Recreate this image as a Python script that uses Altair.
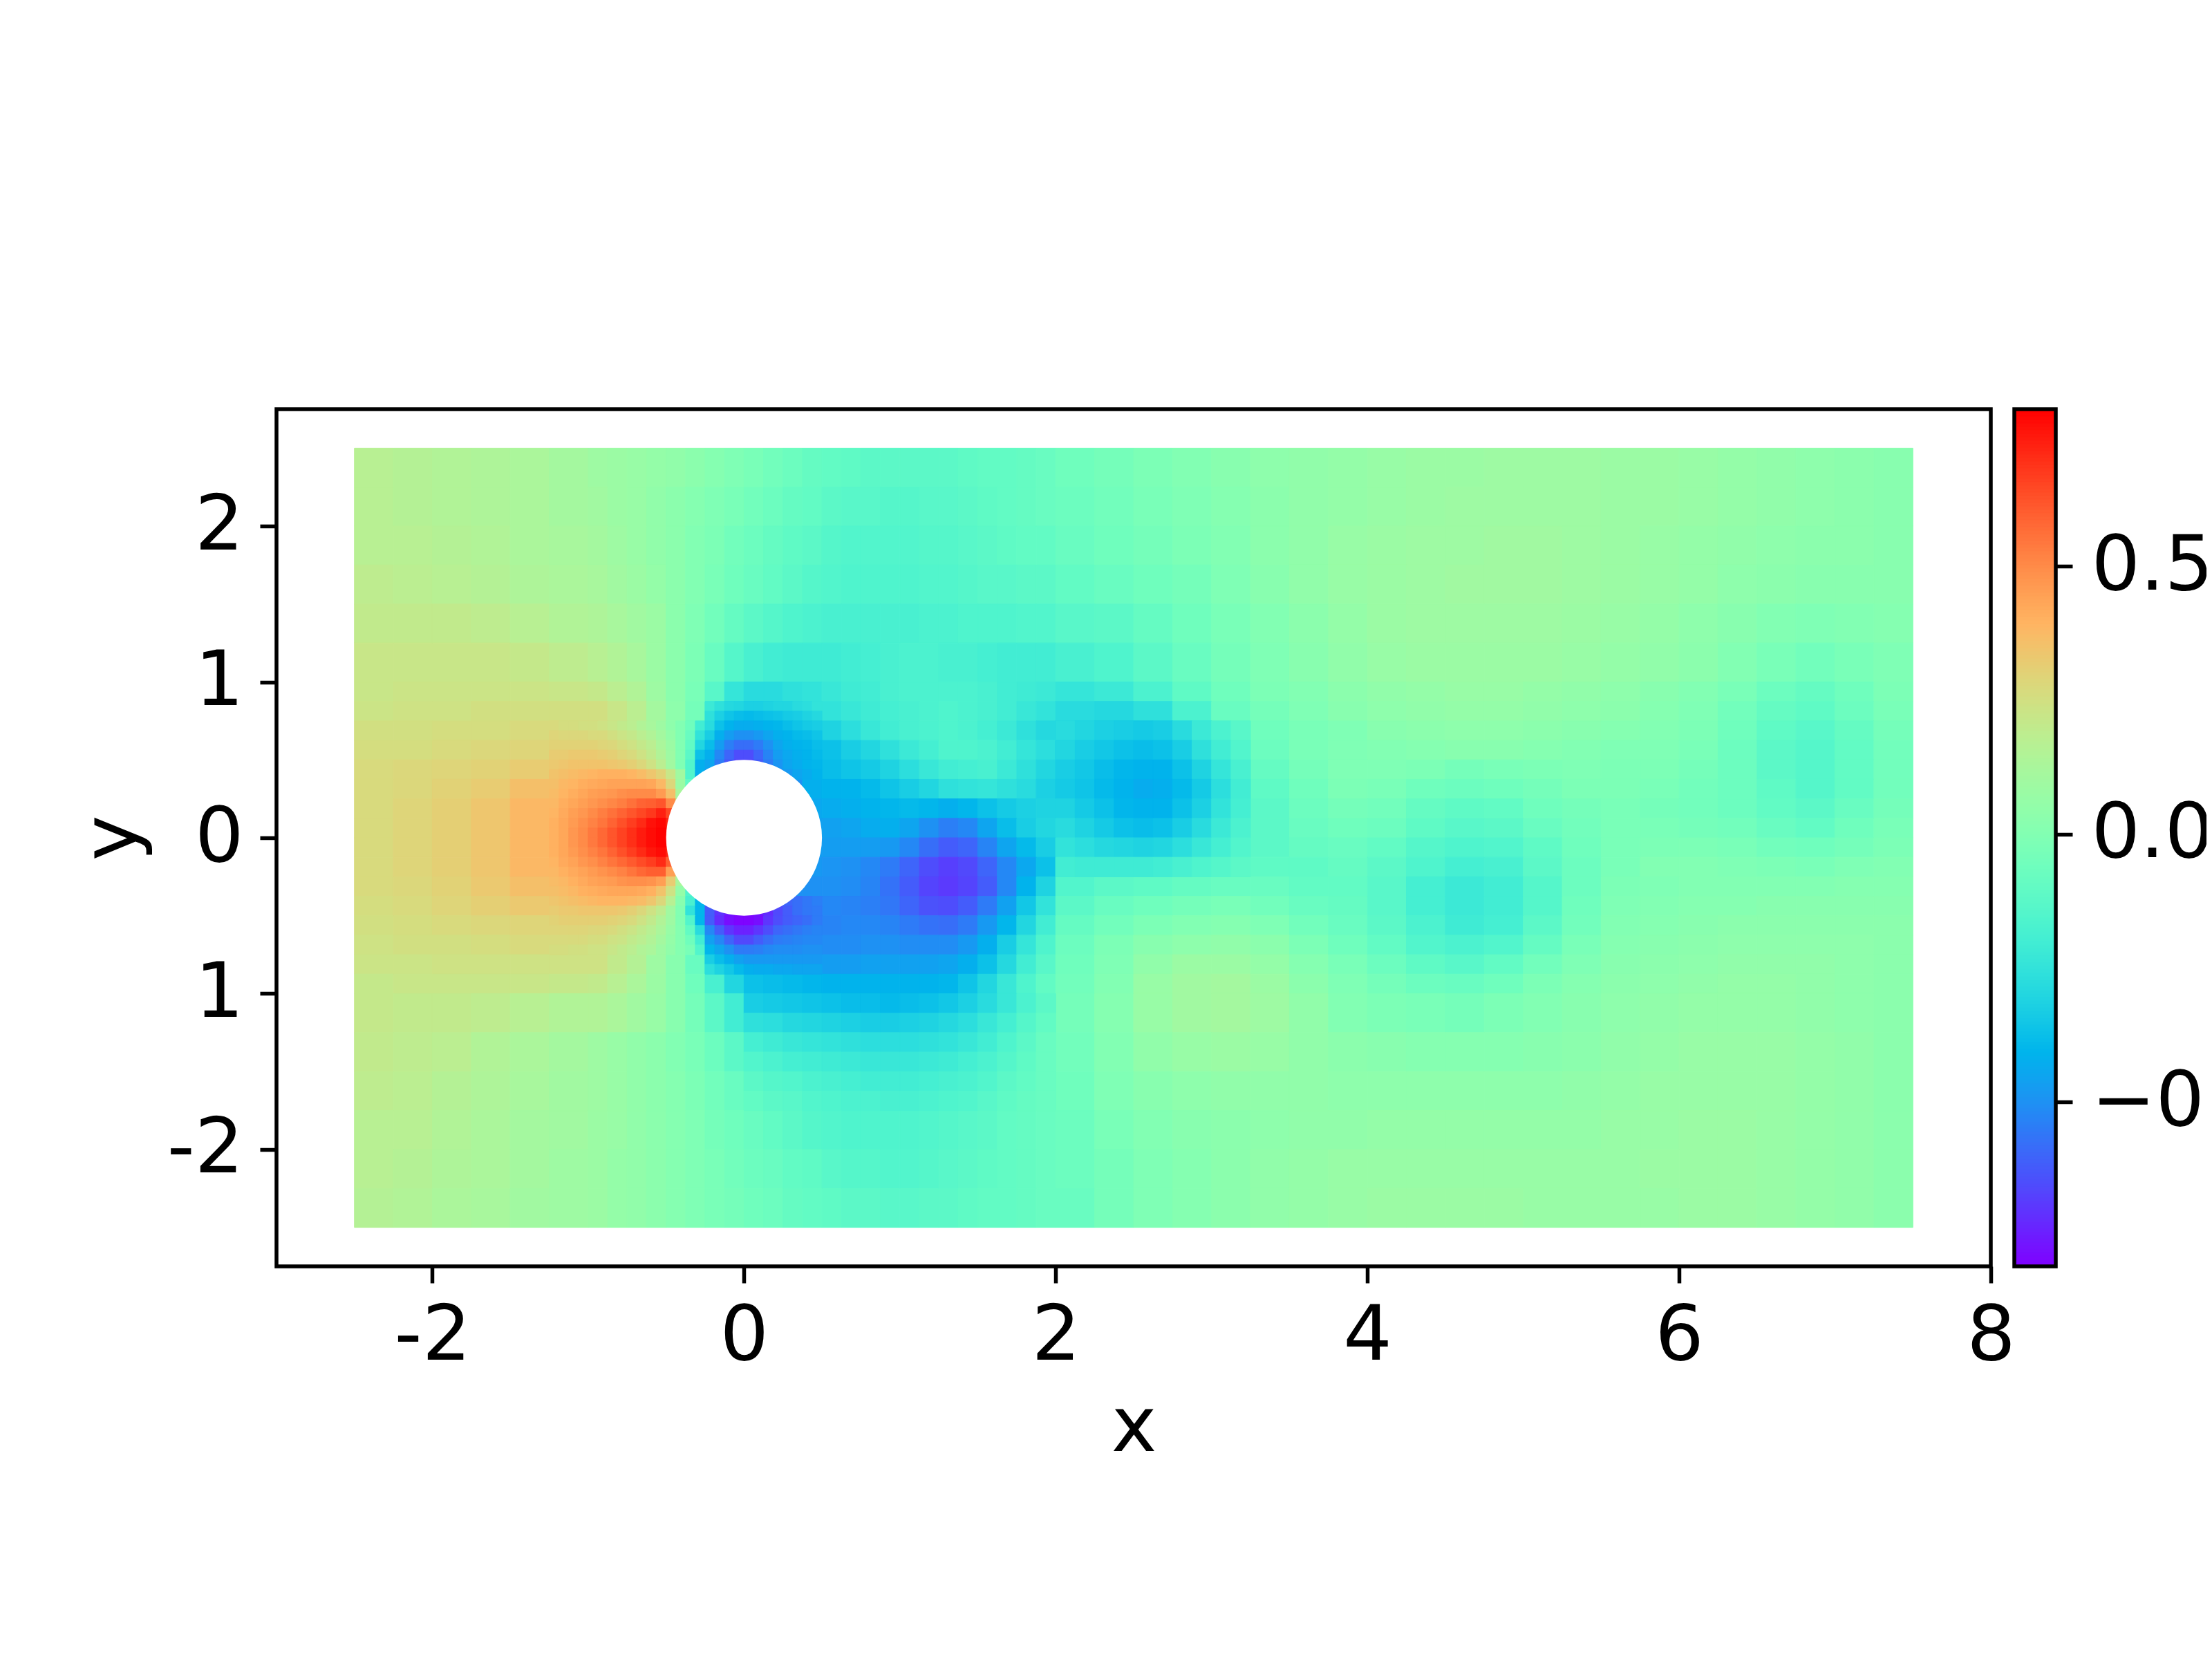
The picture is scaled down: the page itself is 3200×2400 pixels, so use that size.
import altair as alt
import numpy as np
import pandas as pd

x_edges = [-2.5,-2.25,-2.0,-1.75,-1.5,-1.25,-1.0,
 -0.875,-0.75,-0.625,-0.5,-0.375,-0.25,-0.125,0.0,0.125,0.25,0.375,0.5,0.625,0.75,0.875,1.0,
 1.125,1.25,1.375,1.5,1.625,1.75,1.875,2.0,
 2.25,2.5,2.75,3.0,3.25,3.5,3.75,4.0,4.25,4.5,4.75,5.0,5.25,5.5,5.75,6.0,6.25,6.5,6.75,7.0,7.25,7.5]
y_edges = [2.5,2.25,2.0,1.75,1.5,1.25,1.0,
 0.875,0.75,0.625,0.5,0.375,0.25,0.125,0.0,-0.125,-0.25,-0.375,-0.5,-0.625,-0.75,-0.875,-1.0,
 -1.25,-1.5,-1.75,-2.0,-2.25,-2.5]

# field values in hundredths: one row per y band, top to bottom
rows = [
[17,16,15,14,13,11, 9,8,7,6,5,3,1,-1,-3,-5,-7,-9,-10,-11,-12,-12,-12,-12,-12,-11,-10,-10,-9,-8, -6,-4,-2,0,2,4,5,6,7,8,8,9,9,9,8,8,7,6,5,4,3,2],
[17,16,15,14,13,11, 10,8,7,5,3,1,-1,-3,-5,-7,-9,-10,-12,-13,-13,-14,-14,-13,-13,-12,-11,-10,-9,-8, -7,-5,-3,-1,1,3,5,6,7,8,9,9,9,9,8,8,7,6,5,4,3,2],
[17,17,16,15,13,12, 11,9,7,5,3,0,-2,-5,-7,-9,-11,-12,-14,-15,-15,-15,-15,-14,-14,-13,-12,-11,-10,-10, -8,-6,-4,-2,0,3,5,7,8,9,9,10,10,9,8,7,6,5,4,3,3,2],
[19,18,17,16,14,13, 12,10,8,6,3,0,-3,-6,-8,-10,-12,-14,-15,-16,-16,-16,-16,-15,-15,-14,-13,-13,-12,-12, -10,-8,-6,-4,-1,2,5,7,8,9,10,10,10,9,8,7,6,4,3,2,2,2],
[20,20,20,19,17,15, 14,12,10,8,3,-1,-5,-9,-12,-14,-16,-17,-18,-18,-18,-18,-18,-17,-17,-16,-16,-16,-15,-15, -13,-12,-9,-6,-3,0,3,6,8,9,9,9,9,8,7,6,4,2,0,-1,0,1],
[22,22,22,22,21,19, 17,15,12,8,3,-2,-8,-14,-18,-20,-21,-21,-21,-20,-19,-18,-17,-17,-18,-18,-19,-20,-20,-20, -18,-16,-12,-8,-4,-1,2,5,7,8,8,8,8,7,6,5,3,0,-3,-5,-3,-1],
[22,23,23,23,23,22, 21,18,15,9,3,-3,-13,-24,-28,-28,-26,-25,-23,-21,-20,-18,-17,-17,-17,-17,-18,-20,-21,-22, -24,-22,-17,-11,-6,-2,0,3,5,6,7,7,6,5,4,2,0,-3,-7,-9,-6,-2],
[23,24,24,25,25,25, 25,22,18,11,4,-4,-18,-32,-36,-34,-31,-28,-25,-23,-21,-19,-18,-17,-16,-17,-18,-20,-23,-25, -28,-29,-26,-17,-8,-4,-1,2,4,5,6,6,5,4,3,1,-1,-5,-9,-11,-7,-3],
[25,25,26,26,27,28, 28,25,20,12,5,-8,-25,-40,-42,-41,-37,-35,-31,-27,-23,-20,-18,-17,-16,-17,-19,-22,-26,-29, -32,-34,-31,-25,-11,-6,-3,-1,2,3,4,4,3,2,1,0,-2,-6,-11,-13,-9,-4],
[26,26,27,28,29,30, 33,30,24,11,1,-20,-45,-63,-63,-46,-41,-40,-37,-33,-30,-26,-22,-19,-16,-16,-17,-20,-24,-27, -36,-39,-37,-30,-13,-7,-3,-1,0,1,2,2,1,0,-1,-1,-3,-7,-12,-14,-10,-5],
[27,28,29,30,32,34, 35,38,39,33,13,-25,-55,-70,-70,-55,-42,-40,-38,-36,-34,-31,-27,-23,-20,-19,-18,-22,-26,-30, -33,-38,-41,-28,-16,-9,-4,-1,-1,-2,-4,-3,-2,-1,-2,-2,-4,-7,-12,-14,-10,-5],
[27,28,30,32,36,38, 42,45,44,42,20,-20,-60,-70,-70,-60,-50,-42,-41,-41,-39,-36,-33,-30,-26,-25,-24,-26,-28,-32, -35,-41,-43,-33,-19,-11,-6,-2,-3,-6,-7,-6,-4,-2,-2,-3,-5,-7,-11,-14,-10,-5],
[27,29,31,34,38,41, 45,50,57,66,70,0,-50,-60,-60,-50,-45,-44,-43,-42,-41,-40,-39,-40,-42,-40,-37,-34,-32,-31, -31,-39,-41,-30,-18,-12,-7,-4,-5,-9,-11,-10,-6,-4,-3,-4,-5,-7,-10,-12,-8,-4],
[27,29,31,34,38,42, 47,54,64,77,79,0,-40,-50,-50,-45,-45,-46,-46,-45,-43,-42,-45,-50,-54,-52,-45,-38,-33,-30, -27,-34,-37,-26,-17,-12,-8,-6,-7,-11,-13,-12,-8,-5,-3,-3,-4,-5,-8,-10,-6,-3],
[27,29,31,34,38,42, 47,54,64,77,79,0,-40,-50,-50,-45,-46,-47,-47,-47,-47,-48,-52,-58,-62,-60,-53,-45,-39,-33, -24,-28,-30,-22,-16,-12,-9,-8,-10,-14,-16,-15,-11,-6,-3,-2,-2,-3,-5,-6,-4,-2],
[27,29,31,34,38,41, 45,50,57,66,70,0,-50,-60,-60,-50,-47,-48,-49,-50,-52,-55,-60,-65,-68,-66,-60,-52,-44,-37, -20,-20,-20,-16,-12,-11,-11,-9,-12,-16,-19,-18,-12,-7,-3,0,0,-1,-2,-3,-1,0],
[27,28,30,33,36,38, 42,45,46,43,22,-20,-60,-70,-70,-60,-50,-50,-50,-51,-53,-57,-62,-67,-69,-67,-62,-52,-41,-31, -15,-12,-11,-9,-8,-8,-10,-10,-13,-19,-22,-20,-14,-7,-2,-1,0,0,0,0,1,1],
[26,27,29,31,33,35, 36,38,38,35,15,-10,-60,-75,-75,-60,-52,-52,-52,-53,-54,-56,-60,-64,-65,-62,-55,-46,-35,-25, -12,-8,-6,-4,-3,-5,-8,-9,-13,-19,-22,-20,-14,-6,-1,0,1,1,2,2,2,2],
[25,26,27,28,29,30, 31,29,25,16,0,-40,-60,-78,-78,-70,-60,-55,-53,-52,-52,-53,-55,-57,-58,-55,-48,-40,-30,-20, -9,-5,-2,0,1,-1,-5,-8,-12,-17,-21,-19,-12,-5,0,1,2,3,3,3,3,3],
[24,25,25,26,27,27, 28,25,20,12,4,-12,-42,-60,-66,-60,-55,-52,-51,-51,-50,-50,-51,-51,-51,-48,-42,-33,-24,-16, -7,-2,2,4,5,3,-2,-6,-10,-15,-17,-15,-9,-3,1,2,3,4,4,4,4,3],
[23,23,24,24,24,24, 24,20,16,9,2,-8,-25,-42,-48,-47,-47,-47,-47,-47,-46,-46,-46,-46,-45,-42,-37,-29,-20,-13, -6,-1,5,8,8,6,1,-3,-7,-11,-13,-10,-5,-1,2,3,4,5,5,5,4,3],
[21,22,22,22,22,21, 20,17,13,8,2,-6,-18,-30,-37,-38,-39,-40,-41,-41,-41,-41,-41,-41,-40,-36,-30,-23,-16,-10, -5,0,7,10,11,8,3,-1,-4,-7,-8,-6,-2,1,3,4,5,6,6,5,4,3],
[21,20,20,19,17,15, 15,13,10,7,2,-4,-12,-20,-28,-30,-33,-35,-36,-36,-36,-35,-35,-33,-31,-28,-25,-20,-15,-8, -4,1,7,10,11,9,5,0,-2,-3,-4,-2,0,2,4,5,6,6,6,5,4,3],
[20,19,18,15,13,11, 9,7,5,3,0,-3,-7,-12,-16,-19,-21,-23,-24,-24,-24,-23,-22,-21,-19,-17,-15,-13,-10,-8, -5,0,5,7,8,7,5,3,2,1,1,1,2,3,5,6,7,7,7,6,5,3],
[19,18,16,14,12,10, 9,7,5,3,1,-2,-5,-8,-11,-13,-15,-17,-19,-20,-20,-20,-19,-18,-17,-16,-14,-12,-10,-9, -6,-1,2,4,5,5,5,4,4,4,4,4,4,5,6,7,7,7,7,6,5,3],
[17,17,15,13,11,10, 8,7,5,3,1,-1,-4,-6,-8,-10,-12,-14,-15,-16,-16,-16,-16,-15,-14,-13,-12,-10,-9,-8, -7,-3,0,2,3,4,5,5,6,6,6,6,6,6,7,7,8,8,7,6,5,3],
[17,16,14,13,11,9, 8,6,5,3,1,-1,-3,-5,-7,-8,-10,-11,-13,-14,-14,-15,-15,-14,-13,-12,-11,-10,-9,-8, -7,-4,-1,1,3,5,6,7,7,7,7,7,7,7,7,8,8,8,7,6,5,3],
[16,15,13,12,10,9, 8,6,5,3,1,-1,-3,-4,-6,-7,-9,-10,-11,-12,-12,-13,-13,-12,-12,-11,-10,-10,-9,-8, -8,-4,-1,1,3,5,6,7,8,8,8,8,7,7,7,7,8,8,7,6,5,3],
]

# finer readings in front of the cylinder (x -1.25..-0.25, y 0.75..-0.75, step 0.0625)
front_x0, front_y0, front_step = -1.25, 0.75, 0.0625
front = [
[27,26,26,25,25,24,22,20,18,15,12,9,4,0,-6,-20],
[29,28,28,28,27,27,25,23,21,18,15,11,6,0,-8,-25],
[30,30,30,30,30,29,28,26,24,21,18,13,8,0,-10,-30],
[32,32,33,33,33,32,31,29,27,24,20,15,9,0,-12,-37],
[33,34,35,35,35,35,34,33,31,28,24,18,10,-1,-15,-42],
[35,36,37,38,39,40,40,40,39,37,34,30,22,10,-15,-42],
[36,38,39,41,42,43,44,44,44,44,43,38,28,8,-10,-40],
[37,39,41,43,45,46,47,49,50,50,50,46,36,12,-5,-30],
[38,41,43,45,47,49,51,53,56,59,60,62,50,20,0,0],
[39,42,45,47,50,53,56,59,62,65,68,73,65,30,0,0],
[40,43,46,49,52,55,59,63,67,71,76,78,72,50,0,0],
[40,43,47,50,54,58,62,66,70,74,77,79,79,60,0,0],
[40,43,47,50,54,58,62,66,70,74,77,79,79,60,0,0],
[40,43,46,49,52,55,59,63,67,71,75,77,72,50,0,0],
[39,42,44,47,49,52,55,58,61,64,67,71,60,30,0,0],
[38,40,42,44,46,48,50,52,55,58,60,60,45,25,0,0],
[37,38,40,42,44,45,46,48,49,49,48,45,32,12,0,-20],
[36,37,38,40,41,42,43,43,43,42,40,35,24,6,-15,-35],
[34,35,36,37,38,39,39,39,38,37,34,28,17,2,-18,-40],
[32,33,33,34,34,34,34,33,31,28,24,19,10,0,-25,-40],
[30,31,31,31,31,31,30,29,27,24,20,15,9,0,-15,-40],
[29,29,29,29,28,28,27,25,23,20,17,13,7,1,-10,-28],
[27,27,27,27,26,26,24,23,20,18,15,11,6,1,-6,-20],
[26,26,25,25,24,24,22,20,18,15,13,9,5,1,-3,-15],
]
# finer readings above the cylinder (x -0.25..0.5, y 0.875..0.375)
top_x0, top_y0 = -0.25, 0.875
top = [
[-22,-26,-29,-30,-32,-32,-31,-30,-30,-28,-27,-25],
[-26,-32,-36,-38,-39,-38,-37,-36,-34,-33,-31,-29],
[-28,-37,-41,-43,-43,-42,-41,-40,-38,-36,-34,-33],
[-33,-42,-47,-50,-50,-48,-45,-42,-41,-39,-38,-36],
[-38,-47,-54,-58,-58,-55,-50,-45,-42,-41,-40,-38],
[-42,-52,-60,-65,-65,-60,-53,-47,-44,-42,-41,-39],
[-45,-55,-63,-68,-68,-62,-55,-49,-45,-43,-41,-40],
[-50,-60,-68,-70,-70,-66,-58,-52,-48,-45,-43,-41],
]
# finer readings below the cylinder (x -0.25..0.5, y -0.375..-0.875)
bot_x0, bot_y0 = -0.25, -0.375
bot = [
[-60,-70,-75,-78,-78,-76,-70,-62,-60,-58,-56,-54],
[-62,-70,-75,-78,-78,-76,-72,-66,-62,-58,-56,-55],
[-62,-72,-78,-80,-80,-78,-70,-65,-62,-60,-58,-55],
[-52,-62,-70,-74,-74,-70,-65,-60,-58,-56,-54,-53],
[-46,-52,-60,-66,-66,-62,-58,-55,-54,-53,-52,-52],
[-40,-45,-50,-55,-55,-54,-52,-51,-51,-51,-50,-50],
[-33,-38,-42,-46,-48,-48,-48,-48,-48,-48,-48,-48],
[-27,-31,-35,-39,-42,-43,-43,-44,-44,-45,-45,-45],
]
# finer readings over the vortex behind the cylinder (x 2.0..3.25, y 0.75..-0.25, step 0.125)
vort_x0, vort_y0, vort_step = 2.0, 0.75, 0.125
vort = [
[-28,-30,-32,-33,-34,-33,-28,-22,-17,-13],
[-30,-33,-35,-37,-38,-37,-33,-26,-20,-15],
[-33,-35,-38,-40,-41,-41,-37,-31,-24,-18],
[-34,-36,-39,-41,-43,-42,-39,-34,-27,-20],
[-31,-34,-37,-40,-41,-41,-37,-32,-25,-19],
[-28,-31,-34,-37,-38,-37,-33,-28,-22,-17],
[-25,-27,-29,-30,-31,-30,-27,-23,-19,-15],
[-20,-21,-21,-21,-21,-20,-18,-16,-14,-12],
]
# finer readings under the wake (x 0..2, y -1..-1.75, step 0.125)
under_x0, under_y0, under_step = 0.0, -1.0, 0.125
under = [
[-33,-34,-35,-36,-37,-38,-38,-39,-38,-37,-35,-32,-28,-23,-17,-12],
[-26,-27,-29,-30,-31,-32,-33,-33,-32,-31,-29,-27,-23,-19,-14,-10],
[-19,-21,-23,-24,-25,-26,-27,-27,-27,-26,-25,-23,-20,-16,-12,-8],
[-15,-17,-19,-20,-21,-22,-23,-23,-23,-22,-21,-19,-17,-14,-11,-8],
[-12,-14,-15,-17,-18,-19,-20,-20,-20,-19,-18,-17,-15,-12,-10,-8],
[-10,-12,-13,-15,-16,-17,-17,-18,-18,-17,-16,-15,-13,-11,-9,-8],
]

x_ticks = [-2, 0, 2, 4, 6, 8]
y_ticks = [-2, -1, 0, 1, 2]
cbar_ticks = [-0.5, 0.0, 0.5]
v_min, v_max = -0.807, 0.793

# matplotlib "rainbow" colour map as scale stops
stops = np.linspace(0, 1, 33)
def hexcol(t):
    r = min(1.0, abs(2*t - 0.5)); g = np.sin(np.pi*t); b = np.cos(np.pi*t/2)
    return "#%02x%02x%02x" % (round(r*255), round(g*255), round(max(b, 0)*255))
color_scale = alt.Scale(domain=[float(v_min + s*(v_max-v_min)) for s in stops],
                        range=[hexcol(s) for s in stops], interpolate="rgb", clamp=True)

recs = []
for j, row in enumerate(rows):
    assert len(row) == 52, (j, len(row))
    for i, v in enumerate(row):
        recs.append(dict(x=x_edges[i], x2=x_edges[i+1], y=y_edges[j+1], y2=y_edges[j], v=v/100))
def add_patch(mat, x0, y0, d):
    for j, row in enumerate(mat):
        for i, v in enumerate(row):
            recs.append(dict(x=x0+i*d, x2=x0+(i+1)*d, y=y0-(j+1)*d, y2=y0-j*d, v=v/100))
add_patch(front, front_x0, front_y0, front_step)
add_patch(top, top_x0, top_y0, front_step)
add_patch(bot, bot_x0, bot_y0, front_step)
add_patch(vort, vort_x0, vort_y0, vort_step)
add_patch(under, under_x0, under_y0, under_step)
field = pd.DataFrame(recs)

FONT = "DejaVu Sans"
FS = 111
LW = 5.5
PLOT_W, PLOT_H = 2480, 1240
xscale = alt.Scale(domain=[-3, 8], nice=False, zero=False)
yscale = alt.Scale(domain=[-2.75, 2.75], nice=False, zero=False)

x_axis = alt.Axis(
    values=x_ticks, title="x", grid=False, domain=False, tickSize=24, tickWidth=LW, tickColor="black",
    labelFont=FONT, labelFontSize=FS, labelColor="black", labelPadding=22, labelFlush=False,
    labelExpr="replace(format(datum.value,'d'),'−','-')",
    titleFont=FONT, titleFontSize=FS, titleFontWeight="normal", titleColor="black", titlePadding=22)

base = alt.Chart(field).mark_rect(strokeWidth=1).encode(
    x=alt.X("x:Q", scale=xscale, axis=x_axis),
    x2="x2:Q",
    y=alt.Y("y:Q", scale=yscale, axis=alt.Axis(
        orient="left", values=y_ticks, title="y", grid=False, domain=False, tickSize=24, tickWidth=LW, tickColor="black",
        labelFont=FONT, labelFontSize=FS, labelColor="black", labelPadding=24, labelFlush=False,
        labelExpr="datum.value==-2?'-2':format(abs(datum.value),'d')",
        titleFont=FONT, titleFontSize=FS, titleFontWeight="normal", titleColor="black", titlePadding=22)),
    y2="y2:Q",
    color=alt.Color("v:Q", scale=color_scale, legend=None),
    stroke=alt.Stroke("v:Q", scale=color_scale, legend=None),
    order=alt.Order("idx:Q"),
).transform_window(idx="row_number()")
hole = alt.Chart(pd.DataFrame({"x": [0.0], "y": [0.0]})).mark_circle(
    size=50850, color="white", opacity=1).encode(
    x=alt.X("x:Q", scale=xscale, axis=x_axis), y=alt.Y("y:Q", scale=yscale, axis=None))

# colour bar: a second y scale in the same view, drawn right of the plot frame
CB_L, CB_R = PLOT_W + 34, PLOT_W + 94
levels = np.linspace(v_min, v_max, 249)
cb = pd.DataFrame({"y": levels[:-1], "y2": levels[1:], "v": (levels[:-1]+levels[1:])/2})
cb_scale = alt.Scale(domain=[v_min, v_max], nice=False, zero=False)
cb_rect = alt.Chart(cb).mark_rect(strokeWidth=1).encode(
    x=alt.value(CB_L), x2=alt.value(CB_R),
    y=alt.Y("y:Q", scale=cb_scale, axis=alt.Axis(
        orient="right", offset=94, values=cbar_ticks, title=None, grid=False, domain=False, tickSize=24, tickWidth=LW,
        tickColor="black", labelFont=FONT, labelFontSize=FS, labelColor="black", labelPadding=27, labelLimit=400,
        labelExpr="datum.value<0?'−0.5':format(datum.value,'.1f')")),
    y2="y2:Q",
    color=alt.Color("v:Q", scale=color_scale, legend=None),
    stroke=alt.Stroke("v:Q", scale=color_scale, legend=None),
)
cb_frame = alt.Chart(pd.DataFrame({"a": [0]})).mark_rect(fill=None, stroke="black", strokeWidth=LW).encode(
    x=alt.value(CB_L), x2=alt.value(CB_R), y=alt.value(0), y2=alt.value(PLOT_H))

chart = alt.layer(base, hole, cb_rect, cb_frame).resolve_scale(y="independent").properties(
    width=PLOT_W, height=PLOT_H,
    autosize=alt.AutoSizeParams(type="none"),
    padding={"left": 392, "top": 584, "right": 312, "bottom": 568},
    background="white",
).configure_view(stroke="black", strokeWidth=LW)

chart.save("out.html", embed_options={"renderer": "svg", "actions": False})
